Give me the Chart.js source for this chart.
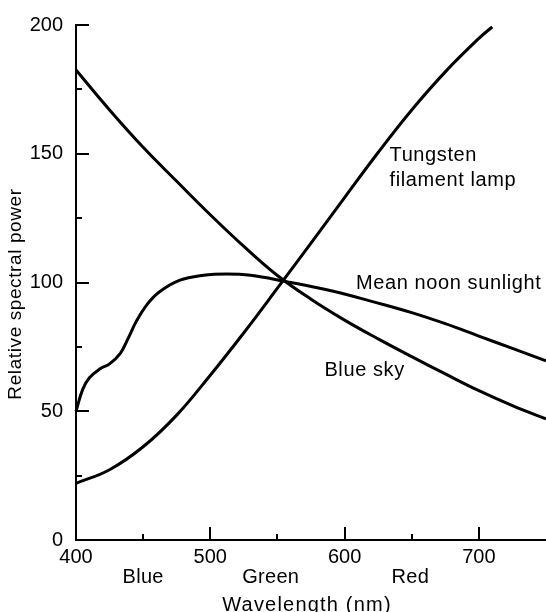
<!DOCTYPE html>
<html>
<head>
<meta charset="utf-8">
<script src="https://cdn.jsdelivr.net/npm/chart.js@4.4.1/dist/chart.umd.min.js"></script>
<style>
html,body{margin:0;padding:0;background:#fff;}
#wrap{width:546px;height:612px;position:relative;}
</style>
</head>
<body>
<div id="wrap"><canvas id="c" width="546" height="612"></canvas></div>
<script>
// ---- data ----
const tungstenNm  = [400, 425, 450, 475, 500, 525, 550, 575, 600, 625, 650, 675, 700, 710];
const tungstenVal = [22, 27.3, 36.2, 48.5, 64, 80.5, 97.8, 115.3, 133, 150.5, 167, 181.8, 194.8, 199.3];

const skyNm  = [400, 425, 450, 475, 500, 525, 550, 575, 600, 625, 650, 675, 700, 725, 750];
const skyVal = [182.5, 167, 152.5, 139.3, 126.3, 114, 102.7, 93.5, 85.4, 78.1, 71.2, 64.5, 58, 52.2, 47];

const sunNm  = [400, 405, 410, 418, 425, 433, 439, 445, 453, 462, 477, 495, 512, 530, 555, 590, 625, 650, 675, 700, 725, 750];
const sunVal = [50, 58.5, 63, 66.5, 68.4, 72.5, 78.5, 85, 91.5, 96.3, 100.8, 102.8, 103.3, 102.8, 100.5, 96.8, 92, 88.3, 84, 79.2, 74.4, 69.6];

const xTickLabels = [400, 500, 600, 700];
const xMinorTicks = [450, 550, 650];
const xMajorTicks = [500, 600, 700];
const yTickLabels = [0, 50, 100, 150, 200];
const yMajorTicks = [50, 100, 150, 200];
const yMinorTicks = [25, 75, 125, 175];

const bandNames = ['Blue', 'Green', 'Red'];
const bandCentres = [450, 545, 649];

const seriesNames = ['Tungsten filament lamp', 'Blue sky', 'Mean noon sunlight'];

const xTitle = 'Wavelength (nm)';
const yTitle = 'Relative spectral power';

// curve labels (anchored in data units)
const curveLabels = [
  {lines: ['Tungsten', 'filament lamp'], nm: 633.5, val: 147.3},
  {lines: ['Mean noon sunlight'], nm: 608.5, val: 97.3},
  {lines: ['Blue sky'], nm: 585, val: 63.7}
];

const FONT = "'Liberation Sans', Arial, Helvetica, sans-serif";

function pts(xs, ys) { return xs.map((x, i) => ({x: x, y: ys[i]})); }

const decor = {
  id: 'decor',
  beforeDraw(chart) {
    chart.ctx.letterSpacing = '0px';
  },
  afterDraw(chart) {
    const ctx = chart.ctx;
    const xs = chart.scales.x, ys = chart.scales.y;
    const bottom = chart.chartArea.bottom, left = chart.chartArea.left;
    ctx.save();
    ctx.strokeStyle = '#000';
    ctx.lineWidth = 2;
    ctx.beginPath();
    xMajorTicks.forEach(v => { const p = Math.round(xs.getPixelForValue(v)); ctx.moveTo(p, bottom); ctx.lineTo(p, bottom - 13); });
    xMinorTicks.forEach(v => { const p = Math.round(xs.getPixelForValue(v)); ctx.moveTo(p, bottom); ctx.lineTo(p, bottom - 6); });
    yMajorTicks.forEach(v => { const p = Math.round(ys.getPixelForValue(v)); ctx.moveTo(left, p); ctx.lineTo(left + 13, p); });
    yMinorTicks.forEach(v => { const p = Math.round(ys.getPixelForValue(v)); ctx.moveTo(left, p); ctx.lineTo(left + 6, p); });
    ctx.stroke();

    ctx.fillStyle = '#000';
    ctx.font = '20px ' + FONT;
    ctx.letterSpacing = '0.6px';
    ctx.textAlign = 'left';
    ctx.textBaseline = 'alphabetic';
    curveLabels.forEach(l => {
      const x = xs.getPixelForValue(l.nm);
      const y = ys.getPixelForValue(l.val);
      l.lines.forEach((t, i) => ctx.fillText(t, x, y + i * 25));
    });

    ctx.textAlign = 'center';
    ctx.letterSpacing = '0.3px';
    bandNames.forEach((b, i) => ctx.fillText(b, xs.getPixelForValue(bandCentres[i]), 582.5));
    ctx.letterSpacing = '1.2px';
    ctx.fillText(xTitle, 307, 611);

    ctx.translate(16, 294);
    ctx.rotate(-Math.PI / 2);
    ctx.font = '19px ' + FONT;
    ctx.letterSpacing = '0.6px';
    ctx.textBaseline = 'middle';
    ctx.fillText(yTitle, 0, 0);
    ctx.restore();
  }
};

const lineStyle = {borderColor: '#000', borderWidth: 3, pointRadius: 0, fill: false, tension: 0.4, clip: false};

new Chart(document.getElementById('c'), {
  type: 'line',
  data: {
    datasets: [
      Object.assign({label: seriesNames[0], data: pts(tungstenNm, tungstenVal)}, lineStyle),
      Object.assign({label: seriesNames[1], data: pts(skyNm, skyVal)}, lineStyle),
      Object.assign({label: seriesNames[2], data: pts(sunNm, sunVal)}, lineStyle)
    ]
  },
  options: {
    responsive: false,
    animation: false,
    devicePixelRatio: 1,
    layout: {padding: {top: 16, right: 0, left: 0, bottom: 0}},
    plugins: {legend: {display: false}, tooltip: {enabled: false}},
    scales: {
      x: {
        type: 'linear', min: 400, max: 750,
        grid: {display: false, drawTicks: false},
        border: {display: true, color: '#000', width: 2},
        afterBuildTicks: s => { s.ticks = xTickLabels.map(v => ({value: v})); },
        afterFit: s => { s.height = 72; },
        ticks: {color: '#000', font: {size: 20, family: FONT}, padding: 5, maxRotation: 0, autoSkip: false}
      },
      y: {
        type: 'linear', min: 0, max: 200,
        grid: {display: false, drawTicks: false},
        border: {display: true, color: '#000', width: 2},
        afterBuildTicks: s => { s.ticks = yTickLabels.map(v => ({value: v})); },
        afterFit: s => { s.width = 76; },
        ticks: {color: '#000', font: {size: 20, family: FONT}, padding: 13}
      }
    }
  },
  plugins: [decor]
});
</script>
</body>
</html>
